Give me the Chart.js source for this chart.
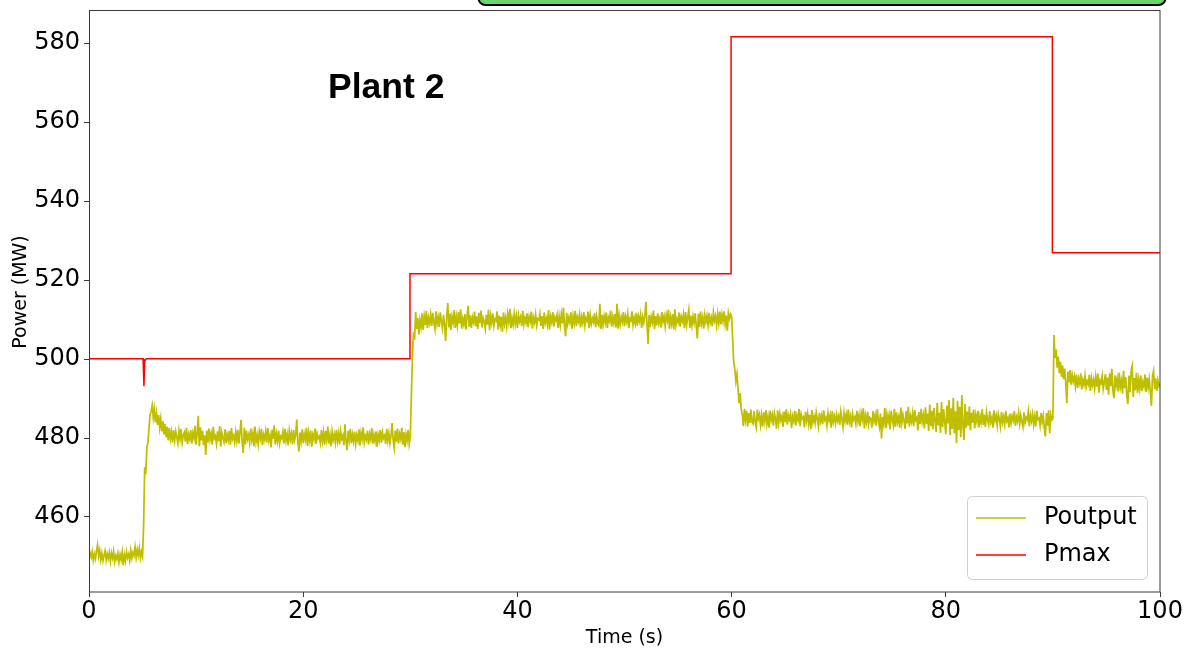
<!DOCTYPE html>
<html>
<head>
<meta charset="utf-8">
<script src="https://cdn.jsdelivr.net/npm/chart.js@4.4.1/dist/chart.umd.min.js"></script>
<style>
  html, body { margin: 0; padding: 0; background: #ffffff; }
  #wrap { width: 1192px; height: 664px; }
</style>
</head>
<body>
<div id="wrap"><canvas id="plant2" width="1192" height="664"></canvas></div>
<script>
// Sampling interval of the recorded output trace (seconds)
const SAMPLE_STEP = 0.1;

// Start time (s) of each recorded output segment
const segmentStarts = [0.0, 5.1, 8.0, 30.0, 32.0, 60.0, 62.0, 90.0, 92.0];

// Plant output power (MW), one value every SAMPLE_STEP seconds
const poutputInitial = [
  449.6, 450.9, 449.8, 451.2, 449.0, 450.6, 449.4, 451.5, 453.0, 450.1,
  451.6, 449.2, 450.8, 448.9, 450.3, 451.4, 449.1, 450.7, 449.5, 451.0,
  448.8, 450.9, 449.6, 451.3, 448.7, 450.2, 449.3, 450.8, 448.6, 450.5,
  449.2, 451.1, 447.8, 450.4, 448.9, 451.2, 449.7, 450.6, 449.0, 451.5,
  449.6, 451.0, 450.2, 452.4, 449.8, 451.7, 450.3, 452.1, 449.6, 451.2,
  450.0];
const poutputRise1 = [
  458.0, 472.6, 470.8, 477.6, 478.8, 482.4, 485.9, 486.8, 488.3,
  485.2, 487.4, 484.0, 486.3, 483.3, 485.8, 482.6, 484.9, 481.7, 484.2,
  480.9, 483.6, 480.2, 482.9, 479.4, 482.5, 479.8, 481.6, 478.9, 482.0];
const poutputLevel1 = [
  479.4, 481.6, 480.2, 478.7, 481.9, 479.8, 482.3, 478.9, 480.6, 481.4,
  479.1, 482.6, 478.5, 480.9, 479.7, 482.0, 478.6, 481.3, 480.0, 483.1,
  478.3, 481.2, 485.6, 477.9, 482.7, 479.4, 481.8, 478.2, 480.7, 475.7,
  481.9, 478.8, 482.4, 479.6, 481.1, 478.4, 482.8, 479.9, 480.5, 478.6,
  481.7, 479.2, 483.0, 477.8, 481.4, 480.1, 479.0, 482.2, 478.7, 480.9,
  479.5, 481.8, 478.3, 482.5, 479.8, 480.6, 478.9, 481.5, 479.3, 482.1,
  478.6, 481.3, 484.6, 479.0, 476.2, 482.6, 478.4, 481.9, 479.7, 480.8,
  478.8, 482.4, 479.5, 481.2, 477.9, 482.9, 479.1, 480.7, 478.5, 481.6,
  479.9, 482.3, 478.2, 480.8, 479.6, 481.7, 478.9, 482.5, 479.4, 480.6,
  477.6, 482.1, 479.8, 483.2, 478.4, 481.0, 479.2, 481.9, 478.7, 480.4,
  479.9, 481.6, 478.6, 482.3, 479.3, 480.9, 478.1, 481.8, 479.7, 481.2,
  478.4, 482.0, 479.5, 480.7, 484.7, 478.9, 476.6, 481.4, 479.2, 482.2,
  478.7, 480.9, 479.6, 482.6, 478.0, 481.3, 479.4, 481.9, 477.8, 480.8,
  479.7, 482.4, 478.5, 481.1, 479.9, 480.4, 478.8, 482.0, 479.2, 481.5,
  478.3, 481.8, 479.6, 482.9, 478.6, 480.7, 477.9, 481.6, 479.5, 480.9,
  478.9, 482.1, 479.3, 481.2, 478.4, 481.7, 479.8, 480.6, 478.2, 483.5,
  479.1, 477.0, 481.8, 479.6, 482.3, 478.7, 480.9, 479.2, 481.6, 478.5,
  480.7, 479.4, 482.2, 478.1, 481.3, 479.8, 482.7, 478.9, 480.5, 479.6,
  481.9, 478.4, 481.0, 479.7, 482.5, 478.6, 480.8, 479.2, 481.7, 477.8,
  480.9, 479.5, 482.0, 478.8, 481.4, 479.9, 480.6, 478.5, 482.3, 479.3,
  481.2, 478.7, 480.6, 483.8, 479.4, 477.5, 481.9, 479.1, 482.4, 478.6,
  481.0, 479.8, 482.6, 478.3, 481.5, 477.7, 480.9, 479.4, 482.1, 478.5];
const poutputRise2 = [
  480.4, 491.0, 500.3, 506.8, 504.9, 511.9, 507.6, 510.4, 506.2, 509.8,
  508.1, 511.6, 507.4, 510.8, 508.6, 512.2, 507.9, 510.5, 509.1, 511.3];
const poutputLevel2 = [
  508.4, 511.7, 509.2, 507.6, 512.1, 508.9, 510.6, 508.1, 511.8, 509.5,
  507.8, 511.2, 508.6, 504.6, 510.9, 514.2, 508.0, 511.5, 507.4, 510.8,
  509.3, 512.4, 507.9, 510.7, 508.5, 511.9, 509.0, 512.6, 507.7, 510.2,
  508.8, 511.4, 507.5, 510.9, 513.5, 508.2, 511.1, 507.9, 510.6, 509.4,
  512.0, 508.3, 510.8, 507.6, 511.7, 509.1, 512.3, 508.0, 510.4, 509.6,
  507.8, 511.2, 508.7, 512.5, 507.3, 510.9, 509.2, 511.6, 508.4, 510.1,
  509.7, 512.1, 507.5, 511.0, 508.6, 510.7, 506.9, 511.8, 508.9, 510.5,
  508.2, 511.4, 509.4, 512.7, 507.8, 510.3, 508.7, 511.5, 509.0, 510.9,
  507.9, 511.1, 509.5, 510.6, 508.3, 512.2, 508.8, 510.4, 509.2, 511.6,
  508.1, 510.8, 509.6, 512.0, 507.7, 510.5, 509.3, 511.3, 508.5, 510.2,
  509.9, 511.5, 508.4, 510.9, 507.6, 511.8, 509.1, 510.3, 508.7, 512.4,
  507.5, 510.7, 509.4, 511.9, 508.2, 510.6, 509.8, 511.2, 507.9, 510.8,
  508.6, 511.4, 509.0, 513.0, 508.4, 505.8, 511.7, 508.9, 510.5, 509.3,
  511.8, 507.7, 510.9, 509.1, 512.2, 508.3, 510.6, 509.5, 511.3, 508.0,
  510.7, 509.2, 511.9, 508.5, 510.4, 509.7, 512.0, 507.8, 511.1, 508.9,
  510.3, 509.4, 511.6, 508.1, 510.8, 509.0, 508.5, 514.0, 507.6, 511.2,
  508.7, 510.9, 509.3, 511.8, 507.9, 510.5, 509.6, 512.3, 508.2, 510.7,
  509.1, 511.4, 508.0, 514.0, 507.7, 511.0, 508.8, 510.6, 509.4, 511.9,
  508.3, 510.8, 509.5, 511.5, 507.8, 510.2, 509.7, 512.1, 508.6, 510.4,
  509.0, 511.7, 508.4, 510.9, 509.6, 511.3, 507.9, 510.6, 509.2, 511.0,
  514.5, 508.9, 503.8, 511.2, 508.1, 510.7, 509.4, 512.3, 507.6, 510.9,
  508.5, 511.6, 509.1, 510.3, 508.0, 511.9, 509.5, 510.8, 508.3, 511.2,
  509.8, 512.5, 507.7, 510.6, 508.9, 511.4, 507.5, 512.6, 508.6, 510.2,
  509.3, 511.8, 508.2, 510.7, 509.6, 511.3, 507.8, 511.9, 508.7, 510.5,
  512.4, 507.9, 511.0, 508.5, 510.8, 509.2, 511.6, 508.4, 505.2, 511.5,
  508.1, 512.0, 509.0, 510.6, 507.7, 511.2, 509.4, 510.9, 508.6, 511.7,
  509.2, 510.5, 508.3, 511.8, 509.7, 510.9, 508.5, 511.4, 509.1, 512.0,
  508.8, 511.3, 509.6, 512.1, 508.9, 511.0, 507.2, 511.6, 510.2, 511.4];
const poutputDrop3 = [
  510.8, 505.0, 499.1, 497.6, 494.4, 496.2, 492.4, 488.8, 491.3, 487.2,
  486.0, 483.0, 487.4, 484.6, 486.9, 482.9, 486.3, 483.8, 487.2, 484.1];
const poutputLevel3 = [
  483.6, 486.8, 484.1, 482.7, 487.2, 484.9, 486.0, 483.3, 485.7, 482.9,
  486.5, 484.2, 487.1, 483.5, 485.4, 482.6, 486.9, 484.6, 485.9, 483.1,
  486.3, 484.8, 482.4, 487.0, 483.9, 486.2, 484.5, 485.6, 482.8, 486.7,
  484.0, 487.3, 483.4, 485.8, 484.7, 486.1, 482.5, 485.5, 484.3, 486.9,
  483.2, 485.7, 484.6, 487.4, 483.0, 486.0, 484.9, 485.3, 482.7, 486.6,
  484.4, 486.2, 483.6, 485.9, 482.3, 487.1, 484.0, 485.4, 483.8, 486.5,
  484.8, 482.9, 486.4, 484.2, 485.7, 483.5, 487.0, 484.6, 485.2, 483.1,
  486.3, 484.5, 485.8, 482.6, 486.8, 484.1, 485.5, 483.7, 486.0, 484.4,
  485.6, 483.3, 486.7, 484.8, 482.8, 486.4, 484.3, 485.9, 483.4, 487.2,
  484.1, 485.5, 482.7, 486.1, 484.6, 485.3, 483.6, 486.9, 484.2, 485.8,
  483.0, 486.3, 484.7, 487.5, 482.4, 485.6, 484.0, 486.6, 483.5, 485.2,
  484.9, 482.6, 486.8, 484.3, 485.7, 483.1, 487.3, 484.5, 482.9, 486.2,
  479.9, 485.4, 483.6, 487.6, 482.5, 486.0, 484.1, 485.8, 482.2, 486.9,
  484.6, 483.2, 487.4, 482.8, 486.5, 484.0, 485.3, 482.6, 487.7, 483.9,
  485.9, 484.4, 482.3, 486.8, 483.7, 487.9, 482.9, 485.6, 484.2, 486.3,
  483.0, 487.1, 484.6, 485.2, 481.9, 486.6, 483.5, 487.4, 484.1, 485.7,
  482.4, 487.8, 483.6, 486.2, 481.8, 488.5, 483.0, 486.9, 482.2, 487.6,
  484.5, 481.5, 488.9, 483.2, 486.4, 481.3, 489.1, 482.8, 487.3, 484.0,
  481.0, 488.2, 483.7, 489.6, 480.7, 487.5, 482.3, 490.2, 481.2, 486.8,
  478.7, 489.4, 482.0, 487.9, 480.2, 490.9, 483.4, 479.5, 488.6, 482.6,
  486.7, 483.1, 488.0, 481.9, 486.4, 483.9, 487.2, 482.5, 485.8, 484.2,
  486.9, 482.7, 485.5, 484.0, 487.3, 483.3, 485.9, 482.8, 486.5, 484.6,
  483.4, 486.8, 484.1, 485.2, 482.6, 487.0, 484.4, 485.7, 483.2, 486.1,
  484.8, 482.9, 486.6, 484.0, 485.4, 483.5, 486.9, 484.3, 485.1, 482.7,
  486.2, 483.8, 485.6, 484.5, 486.8, 483.1, 485.3, 484.2, 486.4, 483.6,
  485.7, 484.1, 482.8, 486.5, 483.9, 485.2, 484.6, 486.7, 483.0, 485.8,
  484.3, 486.1, 483.4, 485.5, 482.9, 486.9, 484.7, 485.0, 483.2, 486.4,
  484.0, 485.6, 482.5, 480.4, 486.3, 483.1, 487.0, 481.2, 485.9, 484.6];
const poutputRise4 = [
  484.9, 506.1, 500.3, 502.4, 497.8, 500.6, 496.4, 499.3, 495.5, 498.4,
  494.9, 497.6, 493.8, 488.8, 496.8, 494.1, 497.2, 493.5, 496.0, 494.3];
const poutputLevel4 = [
  495.6, 493.2, 496.1, 492.7, 495.0, 493.8, 496.4, 492.3, 494.7, 493.5,
  495.8, 492.9, 494.4, 493.6, 496.0, 491.9, 495.2, 493.4, 494.8, 492.6,
  495.5, 493.0, 496.3, 491.5, 494.6, 493.9, 495.7, 492.4, 494.1, 496.2,
  492.2, 495.3, 491.0, 496.4, 493.1, 497.5, 492.0, 490.1, 495.9, 493.3,
  495.0, 491.8, 496.6, 492.9, 494.5, 491.3, 497.0, 492.6, 495.4, 490.7,
  488.6, 495.8, 491.6, 496.9, 498.2, 490.4, 495.2, 492.1, 496.5, 491.4,
  494.7, 492.5, 495.9, 491.9, 494.2, 493.0, 496.1, 491.7, 495.3, 492.8,
  494.9, 491.6, 488.1, 495.7, 497.0, 492.4, 495.1, 491.9, 494.6, 493.2,
  493.8];

const poutputSegments = [poutputInitial, poutputRise1, poutputLevel1, poutputRise2,
  poutputLevel2, poutputDrop3, poutputLevel3, poutputRise4, poutputLevel4];

// Available maximum power (MW): breakpoints of the step profile
const pmaxTimes  = [0, 5.05, 5.13, 5.2, 5.35, 29.97, 29.97, 59.95, 59.95, 89.95, 89.95, 100];
const pmaxValues = [500.1, 500.1, 493.1, 499.5, 500.1, 500.1, 521.6, 521.6, 581.6, 581.6, 526.9, 526.9];

// Axis ticks
const xTickValues = [0, 20, 40, 60, 80, 100];
const yTickValues = [460, 480, 500, 520, 540, 560, 580];

// Build {x, y} points for the line datasets
const poutputPoints = [];
poutputSegments.forEach((values, s) => {
  values.forEach((v, k) => {
    poutputPoints.push({ x: +(segmentStarts[s] + k * SAMPLE_STEP).toFixed(2), y: v });
  });
});
const pmaxPoints = pmaxTimes.map((t, i) => ({ x: t, y: pmaxValues[i] }));

const FONT = "'DejaVu Sans', 'Noto Sans', sans-serif";

// Frame, axis label, annotation text, header strip and in-plot legend
const decorations = {
  id: 'decorations',
  beforeDraw(chart) {
    const ctx = chart.ctx;
    ctx.save();
    ctx.fillStyle = '#ffffff';
    ctx.fillRect(0, 0, chart.width, chart.height);
    ctx.restore();
  },
  afterDraw(chart) {
    const ctx = chart.ctx;
    const a = chart.chartArea;
    ctx.save();

    // header strip above the plot
    ctx.beginPath();
    ctx.roundRect(478.5, -20, 687, 25, 7);
    ctx.fillStyle = '#6ad36a';
    ctx.fill();
    ctx.lineWidth = 2;
    ctx.strokeStyle = '#000000';
    ctx.stroke();

    // plot frame
    ctx.lineWidth = 1;
    ctx.strokeStyle = '#3a3a3a';
    ctx.strokeRect(Math.round(a.left) + 0.5, Math.round(a.top) + 0.5,
      Math.round(a.right - a.left) - 0.5, Math.round(a.bottom - a.top) - 0.5);

    // vertical axis label
    ctx.save();
    ctx.translate(21, 292);
    ctx.rotate(-Math.PI / 2);
    ctx.font = '19px ' + FONT;
    ctx.fillStyle = '#000000';
    ctx.textAlign = 'center';
    ctx.textBaseline = 'middle';
    ctx.fillText('Power (MW)', 0, 0);
    ctx.restore();

    // plant label
    ctx.fillStyle = '#000000';
    ctx.font = "bold 35.5px 'Liberation Sans', Arial, sans-serif";
    ctx.textBaseline = 'alphabetic';
    ctx.textAlign = 'left';
    ctx.fillText('Plant 2', 328, 98);

    // legend box
    const lx = 967, ly = 496, lw = 180, lh = 83;
    ctx.beginPath();
    ctx.roundRect(lx + 0.5, ly + 0.5, lw, lh, 5);
    ctx.fillStyle = 'rgba(255,255,255,0.8)';
    ctx.fill();
    ctx.strokeStyle = '#d0d0d0';
    ctx.lineWidth = 1;
    ctx.stroke();

    const rows = [518, 555];
    ctx.font = '24px ' + FONT;
    ctx.textBaseline = 'middle';
    chart.data.datasets.forEach((ds, i) => {
      const yy = rows[i];
      ctx.beginPath();
      ctx.moveTo(976, yy);
      ctx.lineTo(1026, yy);
      ctx.strokeStyle = ds.borderColor;
      ctx.lineWidth = 1.7;
      ctx.stroke();
      ctx.fillStyle = '#000000';
      ctx.fillText(ds.label, 1044, yy);
    });
    ctx.restore();
  }
};

new Chart(document.getElementById('plant2'), {
  type: 'line',
  data: {
    datasets: [
      {
        label: 'Poutput',
        data: poutputPoints,
        borderColor: '#bfbf00',
        borderWidth: 1.75,
        pointRadius: 0,
        tension: 0,
        order: 1
      },
      {
        label: 'Pmax',
        data: pmaxPoints,
        borderColor: '#ff0000',
        borderWidth: 1.5,
        pointRadius: 0,
        tension: 0,
        order: 0
      }
    ]
  },
  options: {
    responsive: false,
    animation: false,
    devicePixelRatio: 1,
    layout: { padding: { top: 10, right: 32, bottom: 0, left: 0 } },
    plugins: {
      legend: { display: false },
      tooltip: { enabled: false },
      title: { display: false }
    },
    scales: {
      x: {
        type: 'linear',
        min: 0,
        max: 100,
        afterBuildTicks: s => { s.ticks = xTickValues.map(v => ({ value: v })); },
        afterFit: s => { s.height = 72; s.paddingLeft = 0; s.paddingRight = 0; },
        border: { display: false },
        grid: { display: true, drawOnChartArea: false, drawTicks: true, tickLength: 5, color: '#3a3a3a' },
        ticks: {
          color: '#000000',
          font: { family: FONT, size: 24 },
          padding: 0,
          maxRotation: 0,
          autoSkip: false
        },
        title: {
          display: true,
          text: 'Time (s)',
          color: '#000000',
          font: { family: FONT, size: 19 },
          padding: { top: 0, bottom: 15 }
        }
      },
      y: {
        type: 'linear',
        min: 441,
        max: 588.4,
        afterBuildTicks: s => { s.ticks = yTickValues.map(v => ({ value: v })); },
        afterFit: s => { s.width = 89; s.paddingTop = 0; s.paddingBottom = 0; },
        border: { display: false },
        grid: { display: true, drawOnChartArea: false, drawTicks: true, tickLength: 5, color: '#3a3a3a' },
        ticks: {
          color: '#000000',
          font: { family: FONT, size: 24 },
          padding: 4,
          autoSkip: false
        },
        title: { display: false }
      }
    }
  },
  plugins: [decorations]
});
</script>
</body>
</html>
